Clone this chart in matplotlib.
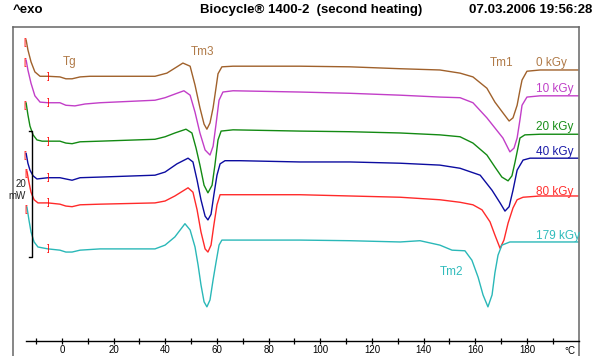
import numpy as np
import matplotlib
matplotlib.use('Agg')
import matplotlib.pyplot as plt

plt.rcParams['font.family'] = ['Liberation Sans', 'DejaVu Sans']

# ---------------- data (temperature in °C, heat flow in mW, curves stacked) ----------------
samples = ['0 kGy', '10 kGy', '20 kGy', '40 kGy', '80 kGy', '179 kGy']
line_colors = ['#a0612b', '#c23ec8', '#138a13', '#0c0ca0', '#ff2a2a', '#2ab8b8']
text_colors = ['#b07a48', '#c040c8', '#1a8f1a', '#1a1aa8', '#ff3030', '#30bcbc']

t_0 = [-13.9, -13.2, -12.0, -10.5, -8.5, -5.4, -0.8, 1.5, 3.9, 7.0, 10.8, 22.5, 36.0, 40.6, 44.5,
       46.8, 49.6, 51.5, 53.4, 55.0, 56.1, 57.3, 58.5, 59.6, 60.4, 61.9, 66.2, 92.1, 111.5, 130.9,
       146.3, 154.1, 159.1, 164.5, 167.6, 170.7, 173.1, 174.6, 176.2, 177.3, 178.1, 180.0, 185.1, 199.8]
hf_0 = [50.2, 48.6, 46.7, 45.1, 44.4, 44.4, 44.3, 44.0, 44.0, 44.3, 44.4, 44.4, 44.4, 44.9, 45.9,
        46.5, 46.0, 43.0, 39.4, 36.8, 36.0, 37.0, 39.4, 42.5, 44.8, 45.9, 46.0, 46.0, 45.9, 45.6,
        45.4, 44.9, 44.3, 42.5, 40.3, 38.6, 37.3, 37.8, 39.8, 42.2, 43.8, 45.2, 45.4, 45.4]

t_10 = [-13.9, -13.2, -12.0, -10.5, -8.5, -5.4, -0.8, 1.5, 5.0, 8.9, 14.7, 36.0, 39.9, 44.5, 47.2,
        49.6, 51.5, 53.4, 55.4, 57.3, 58.5, 59.6, 60.8, 62.3, 66.2, 92.1, 111.5, 130.9, 146.3, 154.1,
        159.1, 164.5, 167.6, 170.7, 173.4, 175.0, 176.2, 177.3, 178.1, 180.0, 185.1, 199.8]
hf_10 = [47.0, 45.4, 43.3, 41.3, 40.3, 40.2, 40.2, 39.8, 39.7, 40.0, 40.2, 40.6, 41.0, 41.7, 42.1,
         41.4, 38.7, 35.4, 32.7, 31.9, 33.3, 36.7, 40.6, 41.9, 42.1, 41.9, 41.7, 41.4, 41.1, 41.0,
         40.2, 37.8, 36.2, 34.6, 32.4, 33.0, 34.6, 37.5, 39.8, 41.1, 41.3, 41.3]

t_20 = [-13.9, -13.2, -12.4, -11.2, -9.7, -7.7, -5.4, -0.8, 1.5, 3.9, 7.0, 14.7, 36.0, 39.9, 43.7,
        48.0, 50.3, 51.9, 53.4, 55.0, 56.5, 58.1, 59.2, 60.4, 61.6, 66.2, 92.1, 111.5, 130.9, 146.3,
        154.1, 159.1, 164.5, 167.6, 170.3, 172.7, 174.2, 175.4, 176.5, 177.3, 179.2, 185.1, 199.8]
hf_20 = [40.2, 38.3, 36.5, 35.1, 34.3, 34.1, 34.1, 34.1, 33.8, 33.7, 34.0, 34.1, 34.4, 34.8, 35.4,
         36.0, 35.4, 33.0, 30.3, 27.1, 25.9, 27.1, 30.3, 34.3, 35.7, 35.9, 35.7, 35.6, 35.4, 35.1,
         34.8, 33.8, 31.9, 30.0, 28.4, 27.8, 28.6, 30.8, 33.0, 34.6, 35.1, 35.2, 35.2]

t_40 = [-13.9, -13.2, -12.4, -11.2, -9.7, -5.4, -0.8, 1.5, 3.9, 7.0, 14.7, 36.0, 39.9, 44.5, 48.8,
        50.7, 52.3, 53.8, 55.4, 56.5, 57.7, 58.8, 60.0, 61.2, 63.1, 68.9, 92.1, 111.5, 130.9, 146.3,
        154.1, 161.9, 166.5, 169.6, 171.5, 173.1, 174.6, 176.2, 178.5, 181.2, 199.8]
hf_40 = [32.2, 30.6, 29.5, 28.6, 28.1, 28.3, 28.3, 28.1, 27.9, 28.3, 28.4, 28.7, 29.2, 30.5, 31.4,
         30.8, 27.9, 24.8, 22.2, 21.6, 22.5, 25.6, 28.7, 30.5, 31.0, 31.0, 30.8, 30.8, 30.6, 30.3,
         29.8, 28.7, 26.3, 24.3, 23.0, 23.7, 26.3, 29.5, 31.1, 31.4, 31.4]

t_80 = [-13.6, -12.8, -12.0, -10.8, -9.3, -5.4, -0.8, 1.5, 3.9, 7.0, 14.7, 36.0, 39.9, 43.7, 48.8,
        50.7, 52.3, 53.8, 55.4, 56.5, 57.7, 58.8, 60.0, 61.2, 68.9, 92.1, 111.5, 130.9, 146.3, 154.1,
        159.1, 162.6, 165.7, 167.6, 169.6, 171.1, 172.7, 174.6, 176.2, 178.5, 185.1, 199.8]
hf_80 = [29.4, 27.6, 26.0, 24.8, 24.3, 24.3, 24.1, 23.8, 23.7, 24.0, 24.1, 24.3, 24.6, 25.4, 26.7,
         26.0, 23.2, 19.7, 17.0, 16.5, 17.6, 20.8, 24.0, 25.6, 25.6, 25.6, 25.4, 25.2, 24.8, 24.4,
         24.0, 23.2, 21.3, 19.2, 17.1, 18.4, 21.1, 23.5, 24.8, 25.2, 25.4, 25.4]

t_179 = [-13.6, -12.8, -12.0, -10.8, -9.3, -5.4, -0.8, 1.5, 3.9, 7.0, 14.7, 36.0, 39.9, 43.7, 47.6,
         49.6, 51.5, 52.7, 53.8, 55.0, 56.1, 57.3, 58.5, 59.6, 60.8, 61.9, 92.1, 111.5, 130.9, 138.6,
         146.3, 151.0, 156.0, 158.7, 161.1, 163.0, 164.9, 166.5, 167.6, 168.8, 170.3, 173.4, 199.8]
hf_179 = [23.7, 21.6, 19.7, 18.1, 17.3, 17.0, 16.8, 16.5, 16.5, 16.8, 17.0, 17.0, 17.6, 18.9, 21.0,
          20.0, 17.3, 14.4, 11.3, 8.6, 7.8, 8.9, 12.1, 14.8, 17.6, 18.4, 18.4, 18.3, 18.1, 18.3,
          17.6, 16.8, 16.7, 15.2, 12.5, 9.7, 7.8, 9.7, 13.2, 16.0, 17.6, 18.1, 18.1]

temps = [t_0, t_10, t_20, t_40, t_80, t_179]
flows = [hf_0, hf_10, hf_20, hf_40, hf_80, hf_179]

major_ticks = [0, 20, 40, 60, 80, 100, 120, 140, 160, 180]
minor_ticks = [-10, 10, 30, 50, 70, 90, 110, 130, 150, 170, 190]
scale_mw = 20

# ---------------- layout helpers (pixel -> data) ----------------
W, H = 592, 356
def px_t(x):
    return (x - 62) / 2.583
def px_y(y):
    return (H - y) / 6.3

fig = plt.figure(figsize=(W / 100, H / 100), dpi=100)
ax = fig.add_axes([0, 0, 1, 1])
ax.set_xlim(px_t(0), px_t(W))
ax.set_ylim(px_y(H), px_y(0))
ax.patch.set_visible(False)

for t, hf, c in zip(temps, flows, line_colors):
    ax.plot(t, hf, color=c, lw=1.0, solid_joinstyle='round', solid_capstyle='round')
    # start / end evaluation brackets
    ax.text(t[0] - 0.5, hf[0] - 0.4, '[', color='#ff0000', fontsize=6.5, ha='center', va='center')
    ax.text(-5.2, np.interp(-5.4, t, hf), ']', color='#ff0000', fontsize=6.5, ha='center', va='center')

# sample labels
label_y = [63, 89, 127, 152, 192, 236]
for s, c, yy in zip(samples, text_colors, label_y):
    ax.text(px_t(536), px_y(yy), s, color=c, fontsize=8.5, ha='left', va='center')

ax.text(px_t(70), px_y(62), 'Tg', color=text_colors[0], fontsize=8.5, ha='center', va='center')
ax.text(px_t(203), px_y(52), 'Tm3', color=text_colors[0], fontsize=8.5, ha='center', va='center')
ax.text(px_t(502), px_y(63), 'Tm1', color=text_colors[0], fontsize=8.5, ha='center', va='center')
ax.text(px_t(452), px_y(272), 'Tm2', color=text_colors[5], fontsize=8.5, ha='center', va='center')

# scale bar (20 mW)
xb = px_t(31.5)
ytop = px_y(131)
ax.plot([px_t(28.5), xb, xb, px_t(28.5)], [ytop, ytop, ytop - scale_mw, ytop - scale_mw],
        color='black', lw=1.0)
ax.text(px_t(21), px_y(184), str(scale_mw), fontsize=7, ha='center', va='center', color='#222222')
ax.text(px_t(17), px_y(196), 'mW', fontsize=7, ha='center', va='center', color='#222222')

# frame
frame_c = '#666666'
for side in ['left', 'right', 'top']:
    ax.spines[side].set_color(frame_c)
    ax.spines[side].set_linewidth(1.1)
ax.spines['left'].set_position(('data', px_t(13)))
ax.spines['left'].set_bounds(px_y(H), px_y(27))
ax.spines['right'].set_position(('data', px_t(579)))
ax.spines['right'].set_bounds(px_y(H), px_y(27))
ax.spines['top'].set_position(('data', px_y(27)))
ax.spines['top'].set_bounds(px_t(13), px_t(579))
ax.set_yticks([])

# temperature axis
ax.spines['bottom'].set_position(('data', px_y(341)))
ax.spines['bottom'].set_bounds(px_t(26), px_t(579))
ax.spines['bottom'].set_linewidth(1.0)
ax.spines['bottom'].set_color('black')
ax.set_xticks(major_ticks)
ax.set_xticks(minor_ticks, minor=True)
ax.set_xticklabels([str(v) for v in major_ticks])
ax.tick_params(axis='x', which='both', direction='inout', length=4, width=0.9, color='black',
               labelsize=7, pad=1.2)
ax.text(px_t(570), px_y(350.5), '°C', fontsize=7, ha='center', va='center')

# header
fy = 1 - 10 / H
fig.text(13 / W, fy, '^exo', fontsize=9.5, fontweight='bold', ha='left', va='center')
fig.text(311 / W, fy, 'Biocycle® 1400-2  (second heating)', fontsize=9.5, fontweight='bold',
         ha='center', va='center')
fig.text(592 / W, fy, '07.03.2006 19:56:28', fontsize=9.5, fontweight='bold', ha='right', va='center')

fig.savefig('out.png', dpi=100)
